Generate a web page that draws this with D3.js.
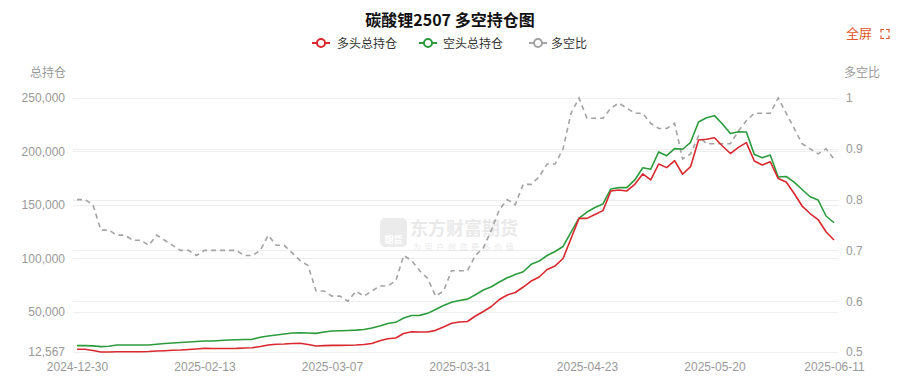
<!DOCTYPE html>
<html><head><meta charset="utf-8">
<script src="https://cdn.jsdelivr.net/npm/d3@7/dist/d3.min.js"></script>
<style>
html,body{margin:0;padding:0;background:#fff;}
svg{display:block;font-family:"Microsoft YaHei","Noto Sans CJK SC","Noto Sans",sans-serif;}
</style></head>
<body>
<svg id="chart" width="900" height="379"></svg>
<script>
const title = "碳酸锂2507 多空持仓图";
const seriesNames = ["多头总持仓", "空头总持仓", "多空比"];
const dates = [
"2024-12-30","2024-12-31","2025-01-03","2025-01-06","2025-01-08","2025-01-10","2025-01-13","2025-01-15","2025-01-17","2025-01-20",
"2025-01-22","2025-01-24","2025-01-27","2025-02-06","2025-02-10","2025-02-12","2025-02-13","2025-02-14","2025-02-17","2025-02-18",
"2025-02-19","2025-02-20","2025-02-21","2025-02-24","2025-02-25","2025-02-26","2025-02-27","2025-02-28","2025-03-03","2025-03-04",
"2025-03-05","2025-03-06","2025-03-07","2025-03-10","2025-03-11","2025-03-12","2025-03-13","2025-03-14","2025-03-17","2025-03-18",
"2025-03-19","2025-03-20","2025-03-21","2025-03-24","2025-03-25","2025-03-26","2025-03-27","2025-03-28","2025-03-31","2025-04-01",
"2025-04-02","2025-04-03","2025-04-07","2025-04-08","2025-04-09","2025-04-10","2025-04-11","2025-04-14","2025-04-15","2025-04-16",
"2025-04-17","2025-04-18","2025-04-21","2025-04-22","2025-04-23","2025-04-24","2025-04-25","2025-04-28","2025-04-29","2025-04-30",
"2025-05-06","2025-05-07","2025-05-08","2025-05-09","2025-05-12","2025-05-13","2025-05-14","2025-05-15","2025-05-16","2025-05-19",
"2025-05-20","2025-05-21","2025-05-22","2025-05-23","2025-05-26","2025-05-27","2025-05-28","2025-05-29","2025-05-30","2025-06-03",
"2025-06-04","2025-06-05","2025-06-06","2025-06-09","2025-06-10","2025-06-11"];
const longPos = [
15100,15100,14000,12567,12600,12800,12800,12800,12800,13000,
13500,13800,14200,14400,14900,15400,16000,15900,15900,15900,
16000,16300,16600,17700,19100,19800,20000,20500,20700,19500,
18200,18500,18800,18800,18900,19100,19600,20500,23000,25000,
25700,29900,31500,31300,31300,32800,36000,39400,40600,41100,
46200,50400,55100,61600,65900,68200,73300,78900,82700,89700,
93000,100000,118700,137500,137500,141100,144700,163100,164000,163100,
169300,179000,173400,188300,184900,191400,178700,185800,210700,211400,
212900,205100,198100,203900,208300,191100,187400,190400,174700,171500,
160700,149000,142000,136400,125000,117300];
const shortPos = [
18500,18500,18300,17600,17900,19100,19100,19100,19100,19100,
19800,20500,21000,21400,21900,22400,22800,22800,23300,23800,
24000,24300,24400,26300,27500,28500,29400,30300,30600,30300,
30000,31300,32200,32400,32700,33000,33600,35000,36900,39200,
40300,44300,46700,46800,48700,52300,56000,59000,60700,62000,
66100,70500,73600,78000,81900,85000,87600,94500,97600,102800,
106500,111200,124700,137800,143400,147600,151000,165000,166200,166200,
173400,184800,183400,199600,196100,202700,202100,208600,227600,231600,
233500,225700,216800,218500,218200,197200,194200,196700,176200,176600,
171400,164500,157700,154700,139700,133400];
const ratio = [
0.80,0.80,0.79,0.74,0.74,0.73,0.73,0.72,0.72,0.71,
0.73,0.72,0.71,0.70,0.70,0.69,0.70,0.70,0.70,0.70,
0.70,0.69,0.69,0.70,0.73,0.71,0.71,0.695,0.68,0.67,
0.62,0.62,0.61,0.61,0.60,0.62,0.61,0.62,0.63,0.63,
0.64,0.69,0.68,0.66,0.645,0.61,0.62,0.66,0.66,0.66,
0.69,0.705,0.74,0.78,0.80,0.79,0.83,0.83,0.845,0.87,
0.87,0.90,0.97,1.00,0.96,0.96,0.96,0.98,0.99,0.98,
0.97,0.97,0.95,0.94,0.94,0.95,0.88,0.89,0.925,0.91,
0.91,0.91,0.91,0.935,0.955,0.97,0.97,0.97,1.00,0.97,
0.94,0.91,0.90,0.89,0.90,0.88];
const leftTicks = [12567, 50000, 100000, 150000, 200000, 250000];
const rightTicks = [0.5, 0.6, 0.7, 0.8, 0.9, 1];
const xTickLabels = ["2024-12-30","2025-02-13","2025-03-07","2025-03-31","2025-04-23","2025-05-20","2025-06-11"];
const colors = ["#d9282f", "#2c9b3d", "#a3a3a3"];

const svg = d3.select("#chart");
const plotL = 73, plotR = 838, plotT = 98, plotB = 352;

const x = d3.scalePoint().domain(dates).range([77, 834]);
const yL = d3.scaleLinear().domain([12567, 250000]).range([plotB, plotT]);
const yR = d3.scaleLinear().domain([0.5, 1]).range([plotB, plotT]);

// title
svg.append("text").attr("x", 450).attr("y", 26).attr("text-anchor", "middle")
  .attr("font-size", 16).attr("font-weight", "bold").attr("fill", "#111").text(title);

// fullscreen
svg.append("text").attr("x", 846).attr("y", 38).attr("font-size", 13).attr("fill", "#e2572b").text("全屏");
const fs = svg.append("g").attr("fill", "none").attr("stroke", "#e2572b").attr("stroke-width", 1.2);
fs.append("path").attr("d", "M881,32.5 v-3 h3 M886,29.5 h3 v3 M889,35.5 v3 h-3 M884,38.5 h-3 v-3");

// legend
const legendPos = [[321, 337], [428, 443], [538, 551]];
seriesNames.forEach((n, i) => {
  const [cx, tx] = legendPos[i];
  const g = svg.append("g");
  g.append("line").attr("x1", cx - 9).attr("x2", cx + 9).attr("y1", 43).attr("y2", 43)
    .attr("stroke", colors[i]).attr("stroke-width", 2);
  g.append("circle").attr("cx", cx).attr("cy", 43).attr("r", 4)
    .attr("fill", "#fff").attr("stroke", colors[i]).attr("stroke-width", 2);
  g.append("text").attr("x", tx).attr("y", 47.5).attr("font-size", 12).attr("fill", "#333").text(n);
});

// axis names
svg.append("text").attr("x", 66).attr("y", 77).attr("text-anchor", "end").attr("font-size", 12).attr("fill", "#999").text("总持仓");
svg.append("text").attr("x", 844).attr("y", 77).attr("font-size", 12).attr("fill", "#999").text("多空比");

// gridlines
const grid = svg.append("g").attr("stroke", "#eeeeee").attr("stroke-width", 1);
leftTicks.forEach(t => grid.append("line").attr("x1", plotL).attr("x2", plotR)
  .attr("y1", Math.round(yL(t)) + 0.5).attr("y2", Math.round(yL(t)) + 0.5));
rightTicks.forEach(t => grid.append("line").attr("x1", plotL).attr("x2", plotR)
  .attr("y1", Math.round(yR(t)) + 0.5).attr("y2", Math.round(yR(t)) + 0.5));

// watermark
const wm = svg.append("g").attr("opacity", 0.55);
wm.append("rect").attr("x", 380).attr("y", 218).attr("width", 27).attr("height", 29).attr("rx", 5).attr("fill", "#dcdcdc");
wm.append("text").attr("x", 393.5).attr("y", 243).attr("text-anchor", "middle").attr("font-size", 9).attr("font-weight", "bold").attr("fill", "#fff").text("期货");
wm.append("text").attr("x", 410).attr("y", 235).attr("font-size", 18).attr("font-weight", "bold").attr("fill", "#d8d8d8").text("东方财富期货");
wm.append("text").attr("x", 413).attr("y", 250).attr("font-size", 8).attr("letter-spacing", 3.6).attr("fill", "#d8d8d8").text("为用户创造更多价值");

// axes labels
const fmt = d3.format(",");
const axL = d3.axisLeft(yL).tickValues(leftTicks).tickFormat(fmt).tickSize(0).tickPadding(8);
svg.append("g").attr("transform", `translate(${plotL},0)`).call(axL)
  .call(g => g.select(".domain").remove())
  .call(g => g.selectAll("text").attr("font-size", 12).attr("fill", "#999").attr("font-family", null));
const axR = d3.axisRight(yR).tickValues(rightTicks).tickFormat(d => d3.format("")(d)).tickSize(0).tickPadding(8);
svg.append("g").attr("transform", `translate(${plotR},0)`).call(axR)
  .call(g => g.select(".domain").remove())
  .call(g => g.selectAll("text").attr("font-size", 12).attr("fill", "#999").attr("font-family", null));
const axX = d3.axisBottom(x).tickValues(xTickLabels).tickSize(0).tickPadding(10);
svg.append("g").attr("transform", `translate(0,${plotB})`).call(axX)
  .call(g => g.select(".domain").remove())
  .call(g => g.selectAll("text").attr("font-size", 12).attr("fill", "#999").attr("font-family", null));

// lines
const lineL = d3.line().x((d, i) => x(dates[i])).y(d => yL(d));
const lineR = d3.line().x((d, i) => x(dates[i])).y(d => yR(d));
svg.append("path").datum(ratio).attr("d", lineR).attr("fill", "none")
  .attr("stroke", colors[2]).attr("stroke-width", 1.6).attr("stroke-dasharray", "5,4");
svg.append("path").datum(shortPos).attr("d", lineL).attr("fill", "none")
  .attr("stroke", colors[1]).attr("stroke-width", 1.6).attr("stroke-linejoin", "round");
svg.append("path").datum(longPos).attr("d", lineL).attr("fill", "none")
  .attr("stroke", colors[0]).attr("stroke-width", 1.6).attr("stroke-linejoin", "round");
</script>
</body></html>
